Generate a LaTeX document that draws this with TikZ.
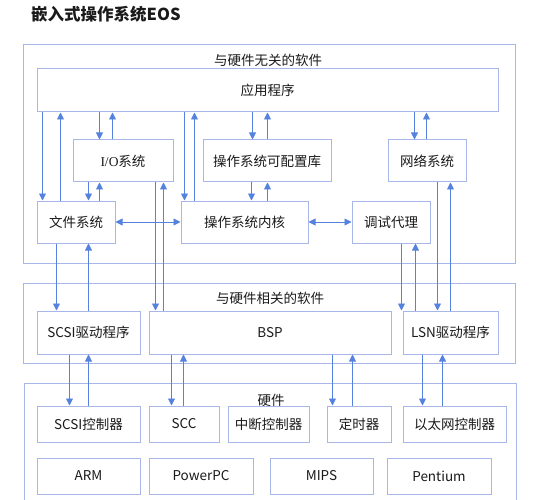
\documentclass[tikz,border=0pt]{standalone}
\usepackage{fontspec}
\setmainfont{Noto Sans CJK SC}
\newfontfamily\romanpart{Liberation Serif}
\usepackage{xcolor}
\usetikzlibrary{arrows.meta,positioning,calc}

\definecolor{boxline}{HTML}{A9B7E8}
\definecolor{arrline}{HTML}{5581DF}
\definecolor{txt}{HTML}{1A1A1A}

\begin{document}
\begin{tikzpicture}[x=1pt, y=-1pt,
    every node/.style={font=\fontsize{13.5}{15}\selectfont, text=txt, inner sep=0pt},
    blk/.style={draw=boxline, line width=1pt, fill=white},
    grp/.style={draw=boxline, line width=1pt},
    arr/.style={draw=arrline, line width=0.9pt, -{Triangle[width=7pt,length=7pt]}},
    darr/.style={draw=arrline, line width=0.9pt, {Triangle[width=7pt,length=7pt]}-{Triangle[width=7pt,length=7pt]}}]
    \useasboundingbox (0,0) rectangle (533,500);

    % Title
    \node[anchor=west, font=\fontsize{16.5}{18}\selectfont\bfseries] (title) at (31,14) {嵌入式操作系统EOS};

    % Group frames
    \node[grp, minimum width=492pt, minimum height=218pt] (soft) at (269,154) {};
    \node[grp, minimum width=492pt, minimum height=80pt] (hwsoft) at (269,323) {};
    \node[grp, minimum width=492pt, minimum height=137pt] (hw) at (270,451.5) {};
    \node (hdrsoft) at (268,60) {与硬件无关的软件};
    \node (hdrhwsoft) at (270,298) {与硬件相关的软件};
    \node (hdrhw) at (271,400) {硬件};

    % Hardware independent software
    \node[blk, minimum width=461pt, minimum height=43pt] (app) at (267.5,90.5) {应用程序};
    \node[blk, minimum width=100pt, minimum height=42pt] (io) at (123,161) {{\romanpart I/O}系统};
    \node[blk, minimum width=128pt, minimum height=42pt] (cfg) at (267,161) {操作系统可配置库};
    \node[blk, minimum width=78pt, minimum height=42pt] (net) at (427,161) {网络系统};
    \node[blk, minimum width=78pt, minimum height=42pt] (fs) at (76,222) {文件系统};
    \node[blk, minimum width=127pt, minimum height=42pt] (kern) at (244.5,222) {操作系统内核};
    \node[blk, minimum width=78pt, minimum height=42pt] (dbg) at (391,222) {调试代理};

    % Hardware dependent software
    \node[blk, minimum width=103pt, minimum height=43pt] (scsi) at (88.5,332.5) {SCSI驱动程序};
    \node[blk, minimum width=242pt, minimum height=43pt] (bsp) at (270,332.5) {BSP};
    \node[blk, minimum width=95pt, minimum height=43pt] (lsn) at (450.5,332.5) {LSN驱动程序};

    % Hardware
    \node[blk, minimum width=103pt, minimum height=36pt] (sctl) at (88.5,424) {SCSI控制器};
    \node[blk, minimum width=70pt, minimum height=36pt] (scc) at (184,424) {SCC};
    \node[blk, minimum width=81pt, minimum height=36pt] (intc) at (268.5,424) {中断控制器};
    \node[blk, minimum width=64pt, minimum height=36pt] (timer) at (359,424) {定时器};
    \node[blk, minimum width=103pt, minimum height=36pt] (eth) at (454.5,424) {以太网控制器};
    \node[blk, minimum width=103pt, minimum height=36pt] (arm) at (88.5,476) {ARM};
    \node[blk, minimum width=104pt, minimum height=36pt] (ppc) at (201,476) {PowerPC};
    \node[blk, minimum width=103pt, minimum height=36pt] (mips) at (321.5,476) {MIPS};
    \node[blk, minimum width=104pt, minimum height=36pt] (pent) at (439,476) {Pentium};

    % Arrows: application
    \draw[arr] ([xshift=6pt]fs.north west |- app.south) -- ([xshift=6pt]fs.north west);
    \draw[arr] ([xshift=24pt]fs.north west) -- ([xshift=24pt]fs.north west |- app.south);
    \draw[arr] ([xshift=27pt]io.north west |- app.south) -- ([xshift=27pt]io.north west);
    \draw[arr] ([xshift=40pt]io.north west) -- ([xshift=40pt]io.north west |- app.south);
    \draw[arr] ([xshift=4pt]kern.north west |- app.south) -- ([xshift=4pt]kern.north west);
    \draw[arr] ([xshift=14pt]kern.north west) -- ([xshift=14pt]kern.north west |- app.south);
    \draw[arr] ([xshift=50pt]cfg.north west |- app.south) -- ([xshift=50pt]cfg.north west);
    \draw[arr] ([xshift=65pt]cfg.north west) -- ([xshift=65pt]cfg.north west |- app.south);
    \draw[arr] ([xshift=27pt]net.north west |- app.south) -- ([xshift=27pt]net.north west);
    \draw[arr] ([xshift=39pt]net.north west) -- ([xshift=39pt]net.north west |- app.south);

    % Arrows: between middle boxes
    \draw[arr] ([xshift=52pt]fs.north west |- io.south) -- ([xshift=52pt]fs.north west);
    \draw[arr] ([xshift=63pt]fs.north west) -- ([xshift=63pt]fs.north west |- io.south);
    \draw[arr] ([xshift=71pt]kern.north west |- cfg.south) -- ([xshift=71pt]kern.north west);
    \draw[arr] ([xshift=87pt]kern.north west) -- ([xshift=87pt]kern.north west |- cfg.south);
    \draw[darr] (fs) -- (kern);
    \draw[darr] (kern) -- (dbg);

    % Arrows: down to hardware dependent software
    \draw[arr] ([xshift=20pt]scsi.north west |- fs.south) -- ([xshift=20pt]scsi.north west);
    \draw[arr] ([xshift=52pt]scsi.north west) -- ([xshift=52pt]scsi.north west |- fs.south);
    \draw[arr] ([xshift=7pt]bsp.north west |- io.south) -- ([xshift=7pt]bsp.north west);
    \draw[arr] ([xshift=15pt]bsp.north west) -- ([xshift=15pt]bsp.north west |- io.south);
    \draw[arr] ([xshift=-1pt]lsn.north west |- dbg.south) -- ([xshift=-1pt]lsn.north west);
    \draw[arr] ([xshift=13pt]lsn.north west) -- ([xshift=13pt]lsn.north west |- dbg.south);
    \draw[arr] ([xshift=35pt]lsn.north west |- net.south) -- ([xshift=35pt]lsn.north west);
    \draw[arr] ([xshift=48pt]lsn.north west) -- ([xshift=48pt]lsn.north west |- net.south);

    % Arrows: down to hardware
    \draw[arr] ([xshift=33pt]sctl.north west |- scsi.south) -- ([xshift=33pt]sctl.north west);
    \draw[arr] ([xshift=52pt]sctl.north west) -- ([xshift=52pt]sctl.north west |- scsi.south);
    \draw[arr] ([xshift=23pt]scc.north west |- bsp.south) -- ([xshift=23pt]scc.north west);
    \draw[arr] ([xshift=35pt]scc.north west) -- ([xshift=35pt]scc.north west |- bsp.south);
    \draw[arr] ([xshift=6pt]timer.north west |- bsp.south) -- ([xshift=6pt]timer.north west);
    \draw[arr] ([xshift=26pt]timer.north west) -- ([xshift=26pt]timer.north west |- bsp.south);
    \draw[arr] ([xshift=20pt]eth.north west |- lsn.south) -- ([xshift=20pt]eth.north west);
    \draw[arr] ([xshift=40pt]eth.north west) -- ([xshift=40pt]eth.north west |- lsn.south);
\end{tikzpicture}
\end{document}
